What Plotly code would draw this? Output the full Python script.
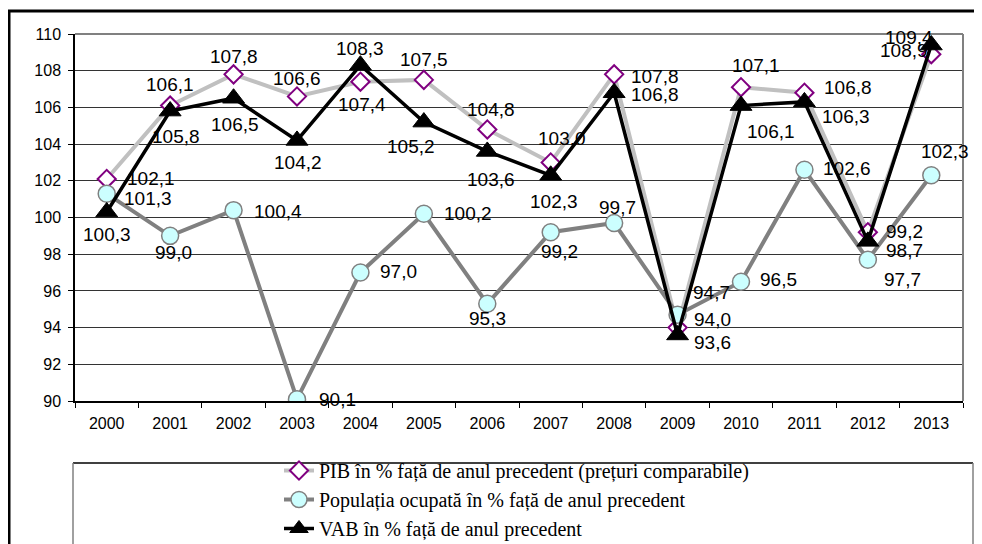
import plotly.graph_objects as go

YEARS = list(range(2000, 2014))
PIB = [102.1, 106.1, 107.8, 106.6, 107.4, 107.5, 104.8, 103.0, 107.8, 94.0, 107.1, 106.8, 99.2, 108.9]
POP = [101.3, 99.0, 100.4, 90.1, 97.0, 100.2, 95.3, 99.2, 99.7, 94.7, 96.5, 102.6, 97.7, 102.3]
VAB = [100.3, 105.8, 106.5, 104.2, 108.3, 105.2, 103.6, 102.3, 106.8, 93.6, 106.1, 106.3, 98.7, 109.4]

NAMES = [
    "PIB în % față de anul precedent (prețuri comparabile)",
    "Populația ocupată în % față de anul precedent",
    "VAB în % față de anul precedent",
]

# label offsets in pixels (dx right, dy down) relative to each point
PIB_OFF = [(44, 0), (0, -21), (0, -18), (0, -18), (2, 23), (0, -20), (4, -20),
           (11, -24), (41, 2), (35, -8), (15, -22), (44, -5), (37, -1), (-27, -4)]
POP_OFF = [(41, 5), (3, 17), (44, 1), (40, 0), (38, -1), (44, 0), (0, 15),
           (9, 19), (3, -16), (34, -22), (37, -2), (43, -1), (35, 20), (14, -24)]
VAB_OFF = [(0, 22), (6, 25), (1, 26), (1, 22), (0, -17), (-13, 24), (4, 28),
           (3, 26), (41, 2), (35, 8), (30, 26), (42, 15), (37, 9), (-22, -8)]

# the page body adds an 8px offset, so the figure is a bit smaller than the window
OFF = 8
W, H = 982 - OFF, 544 - OFF
L, T = 75 - OFF, 34 - OFF
R, B = W - (963 - OFF), H - (401 - OFF)
PW, PH = W - L - R, H - T - B


def px_x(p):
    """screen x (window pixels) -> paper x"""
    return (p - OFF - L) / PW


def px_y(p):
    """screen y (window pixels) -> paper y"""
    return (H - B - (p - OFF)) / PH


fig = go.Figure()
fig.add_trace(go.Scatter(
    x=YEARS, y=PIB, name=NAMES[0], mode="lines+markers",
    line=dict(color="#C0C0C0", width=4),
    marker=dict(symbol="diamond", size=14, color="white", line=dict(color="#800080", width=2)),
))
fig.add_trace(go.Scatter(
    x=YEARS, y=POP, name=NAMES[1], mode="lines+markers",
    line=dict(color="#808080", width=4),
    marker=dict(symbol="circle", size=17, color="#CCFFFF", line=dict(color="#808080", width=1.5)),
))
fig.add_trace(go.Scatter(
    x=YEARS, y=VAB, name=NAMES[2], mode="lines+markers",
    line=dict(color="black", width=3.5),
    marker=dict(symbol="triangle-up", size=19, color="black", line=dict(color="black", width=1)),
))

annotations = []
for vals, offs in ((PIB, PIB_OFF), (POP, POP_OFF), (VAB, VAB_OFF)):
    for yr, v, (dx, dy) in zip(YEARS, vals, offs):
        annotations.append(dict(
            x=yr, y=v, xref="x", yref="y", text=f"{v:.1f}".replace(".", ","),
            showarrow=False, xshift=dx, yshift=-dy,
            font=dict(family="Liberation Sans, Arial", size=19, color="black"),
        ))

shapes = [
    # outer frame
    dict(type="rect", xref="paper", yref="paper", x0=px_x(9), x1=px_x(1000),
         y0=px_y(570), y1=px_y(11), line=dict(color="black", width=3)),
    # plot area border (top, right)
    dict(type="line", xref="paper", yref="paper", x0=0, x1=1, y0=1, y1=1,
         line=dict(color="#808080", width=2)),
    dict(type="line", xref="paper", yref="paper", x0=1, x1=1, y0=0, y1=1,
         line=dict(color="#808080", width=2)),
    # legend box
    dict(type="line", xref="paper", yref="paper", x0=px_x(73), x1=px_x(973),
         y0=px_y(463), y1=px_y(463), line=dict(color="black", width=1.5)),
    dict(type="line", xref="paper", yref="paper", x0=px_x(73), x1=px_x(73),
         y0=px_y(463), y1=px_y(560), line=dict(color="#808080", width=1.5)),
    dict(type="line", xref="paper", yref="paper", x0=px_x(973), x1=px_x(973),
         y0=px_y(463), y1=px_y(560), line=dict(color="#808080", width=1.5)),
]

fig.update_layout(
    width=W, height=H,
    margin=dict(l=L, r=R, t=T, b=B, autoexpand=False),
    paper_bgcolor="white", plot_bgcolor="white",
    font=dict(family="Liberation Sans, Arial", size=16, color="black"),
    showlegend=True,
    legend=dict(
        x=px_x(279), y=px_y(451), xanchor="left", yanchor="top",
        font=dict(family="Liberation Serif, Times New Roman", size=20, color="black"),
        bgcolor="rgba(0,0,0,0)", tracegroupgap=0, itemwidth=30,
    ),
    annotations=annotations,
    shapes=shapes,
)
fig.update_xaxes(
    range=[1999.5, 2013.5], tickvals=YEARS, ticktext=[str(y) for y in YEARS],
    showline=True, linecolor="black", linewidth=1.5, ticks="", ticklabelstandoff=7,
    minor=dict(ticks="outside", tick0=1999.5, dtick=1, ticklen=5, tickcolor="black", showgrid=False),
    showgrid=False, zeroline=False, automargin=False,
)
fig.update_yaxes(
    range=[90, 110], dtick=2, showline=True, linecolor="black", linewidth=1.5,
    ticks="outside", ticklen=5, tickcolor="black", ticklabelstandoff=4,
    showgrid=True, gridcolor="#333333", gridwidth=1, zeroline=False, automargin=False,
)

fig.write_html("out.html")
